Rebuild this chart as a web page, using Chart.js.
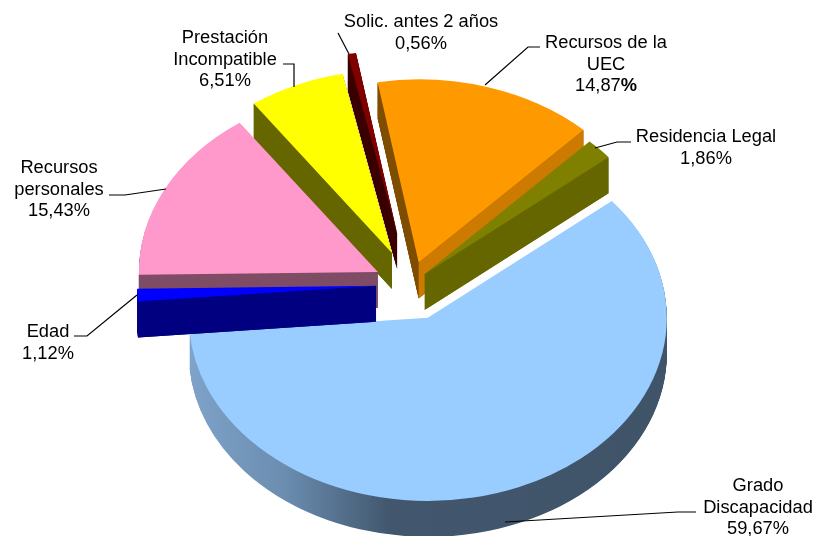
<!DOCTYPE html>
<html lang="es">
<head>
  <meta charset="UTF-8" />
  <title>Causas</title>
  <script src="https://cdn.jsdelivr.net/npm/chart.js"></script>
  <style>
    html, body { margin: 0; padding: 0; background: #fff; }
  </style>
</head>
<body>
  <canvas id="tarta" width="816" height="536"></canvas>
  <script>
    // datos
    const categories = ['Recursos de la UEC', 'Residencia Legal', 'Grado Discapacidad', 'Edad',
      'Recursos personales', 'Prestación Incompatible', 'Solic. antes 2 años'];
    const values = [14.87, 1.86, 59.67, 1.12, 15.43, 6.51, 0.56];
    const valueLabels = ['14,87', '1,86', '59,67', '1,12', '15,43', '6,51', '0,56'];

    // estilo de cada porcion
    const topColors = ['#FF9900', '#808000', '#99CCFF', '#0000FF', '#FF99CC', '#FFFF00', '#800000'];
    const startFace = ['#7F4D00', '#666600', '#3F5468', '#000080', '#7F4C66', '#666600', '#3A0000'];
    const endFace = ['#CC7A00', '#666600', '#3F5468', '#000080', '#7F4C66', '#666600', '#3A0000'];
    const explode = [30, 20, 47, 34, 36, 45, 68];
    const drawOrder = [6, 5, 0, 1, 4, 2, 3];
    const squash = 0.766;
    const depth = 36;

    // etiquetas: lineas de texto, centro x, base y de la primera linea, guia
    const labelLines = [
      ['Recursos de la', 'UEC'],
      ['Residencia Legal'],
      ['Grado', 'Discapacidad'],
      ['Edad'],
      ['Recursos', 'personales'],
      ['Prestación', 'Incompatible'],
      ['Solic. antes 2 años']
    ];
    const labelPos = [[606, 48], [706, 142], [758, 491], [48, 337], [59, 173], [225, 43], [421, 27]];
    const leaders = [
      [[540, 47], [528, 47], [485, 85]],
      [[631, 142], [617, 142], [595, 148]],
      [[696, 512], [678, 512], [505, 522]],
      [[74, 336], [87, 336], [137, 295]],
      [[109, 195], [125, 195], [166, 189]],
      [[283, 64], [294, 64], [294, 87]],
      [[338, 33], [349, 54]]
    ];

    const pieFont = '18.3px "Liberation Sans", Arial, sans-serif';
    const lineGap = 21.5;

    function wedge(ctx, a, shift) {
      ctx.beginPath();
      ctx.moveTo(a.x, a.y + shift);
      ctx.arc(a.x, a.y + shift, a.outerRadius, a.startAngle, a.endAngle);
      ctx.closePath();
    }

    function edgeFace(ctx, a, angle, shift, color) {
      const ex = a.x + Math.cos(angle) * a.outerRadius;
      const ey = a.y + Math.sin(angle) * a.outerRadius;
      ctx.fillStyle = color;
      ctx.beginPath();
      ctx.moveTo(a.x, a.y);
      ctx.lineTo(ex, ey);
      ctx.lineTo(ex, ey + shift);
      ctx.lineTo(a.x, a.y + shift);
      ctx.closePath();
      ctx.fill();
    }

    const tilted = {
      id: 'tilted',
      beforeDatasetsDraw(chart) {
        const ctx = chart.ctx;
        const arcs = chart.getDatasetMeta(0).data;
        const cx = arcs[0].x, cy = arcs[0].y;
        const shift = depth / squash;
        ctx.save();
        ctx.translate(cx, cy);
        ctx.scale(1, squash);
        ctx.translate(-cx, -cy);
        drawOrder.forEach(i => {
          const a = arcs[i];
          const mid = (a.startAngle + a.endAngle) / 2;
          ctx.save();
          ctx.translate(Math.cos(mid) * explode[i], Math.sin(mid) * explode[i]);
          // pared exterior
          const rim = ctx.createLinearGradient(a.x - a.outerRadius, 0, a.x + a.outerRadius, 0);
          if (i === 2) {
            rim.addColorStop(0, '#7FA3C9');
            rim.addColorStop(0.2, '#6A8DB0');
            rim.addColorStop(0.42, '#42576E');
            rim.addColorStop(1, '#3F5468');
          } else {
            rim.addColorStop(0, startFace[i]);
            rim.addColorStop(1, startFace[i]);
          }
          ctx.fillStyle = rim;
          for (let s = shift; s > 0; s -= 1) {
            wedge(ctx, a, s);
            ctx.fill();
          }
          // solo las caras de corte que miran hacia abajo
          if (Math.cos(a.startAngle) < 0) edgeFace(ctx, a, a.startAngle, shift, startFace[i]);
          if (Math.cos(a.endAngle) > 0) edgeFace(ctx, a, a.endAngle, shift, endFace[i]);
          a.draw(ctx);
          ctx.restore();
        });
        ctx.restore();
        return false;
      },
      afterDraw(chart) {
        const ctx = chart.ctx;
        ctx.save();
        ctx.strokeStyle = '#000';
        ctx.lineWidth = 1.2;
        leaders.forEach(pts => {
          ctx.beginPath();
          pts.forEach((p, k) => k ? ctx.lineTo(p[0], p[1]) : ctx.moveTo(p[0], p[1]));
          ctx.stroke();
        });
        ctx.fillStyle = '#000';
        ctx.font = pieFont;
        ctx.textAlign = 'center';
        labelLines.forEach((lines, i) => {
          const [x, y] = labelPos[i];
          lines.forEach((t, k) => ctx.fillText(t, x, y + k * lineGap));
          const vy = y + lines.length * lineGap;
          if (i === 0) {
            // el % de esta etiqueta va en negrita
            const w1 = ctx.measureText(valueLabels[i]).width;
            ctx.font = 'bold ' + pieFont;
            const w2 = ctx.measureText('%').width;
            ctx.textAlign = 'left';
            ctx.fillText('%', x - (w1 + w2) / 2 + w1, vy);
            ctx.font = pieFont;
            ctx.fillText(valueLabels[i], x - (w1 + w2) / 2, vy);
            ctx.textAlign = 'center';
          } else {
            ctx.fillText(valueLabels[i] + '%', x, vy);
          }
        });
        ctx.restore();
      }
    };

    new Chart(document.getElementById('tarta'), {
      type: 'pie',
      data: {
        labels: categories,
        datasets: [{ data: values, backgroundColor: topColors, borderWidth: 0 }]
      },
      options: {
        responsive: false,
        animation: false,
        rotation: -9.9,
        layout: { padding: { left: 171, right: 167, top: 45.5, bottom: 12.5 } },
        plugins: { legend: { display: false }, tooltip: { enabled: false } }
      },
      plugins: [tilted]
    });
  </script>
</body>
</html>
